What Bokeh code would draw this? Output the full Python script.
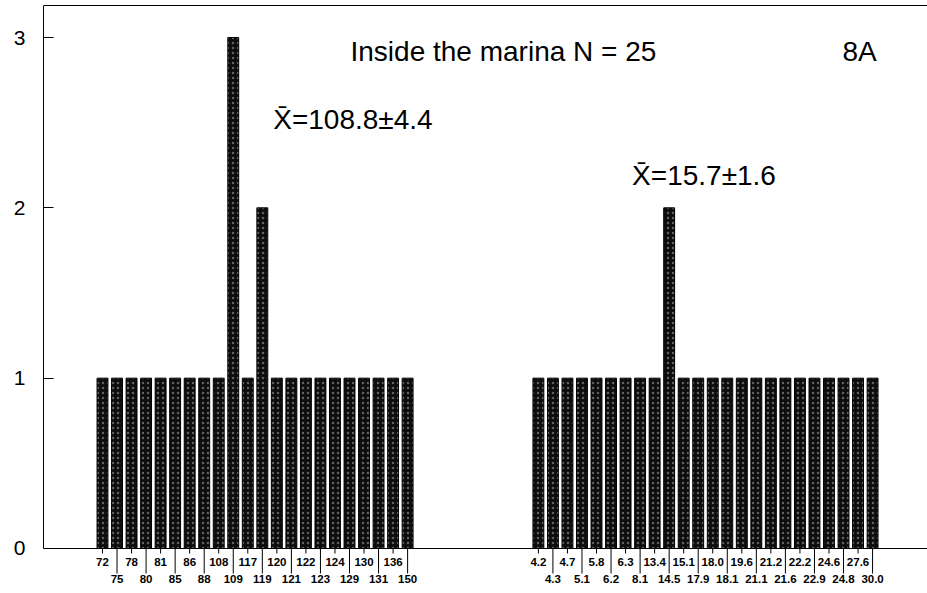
from bokeh.plotting import figure
from bokeh.models import Range1d, Span, FixedTicker, ColumnDataSource
from bokeh.core.properties import value
from bokeh.embed import file_html
from bokeh.resources import INLINE

# ---- data ----
left_labels = ["72", "75", "78", "80", "81", "85", "86", "88", "108", "109", "117",
               "119", "120", "121", "122", "123", "124", "129", "130", "131", "136", "150"]
left_counts = [1, 1, 1, 1, 1, 1, 1, 1, 1, 3, 1, 2, 1, 1, 1, 1, 1, 1, 1, 1, 1, 1]

right_labels = ["4.2", "4.3", "4.7", "5.1", "5.8", "6.2", "6.3", "8.1", "13.4", "14.5",
                "15.1", "17.9", "18.0", "18.1", "19.6", "21.1", "21.2", "21.6", "22.2",
                "22.9", "24.6", "24.8", "27.6", "30.0"]
right_counts = [1, 1, 1, 1, 1, 1, 1, 1, 1, 2, 1, 1, 1, 1, 1, 1, 1, 1, 1, 1, 1, 1, 1, 1]

y_ticks = [0, 1, 2, 3]
title_text = "Inside the marina N = 25"
panel_text = "8A"
mean_left = "X\u0304=108.8\u00b14.4"
mean_right = "X\u0304=15.7\u00b11.6"

# ---- layout of the two groups along a slot axis ----
right_offset = 30
xs = list(range(len(left_labels))) + [right_offset + j for j in range(len(right_labels))]
labels = left_labels + right_labels
counts = left_counts + right_counts
row = [i % 2 for i in range(len(left_labels))] + [j % 2 for j in range(len(right_labels))]

px_per_y = 170.33
p = figure(width=927, height=593, output_backend="svg", toolbar_location=None,
           x_range=Range1d(-4.06, 56.78),
           y_range=Range1d(-45 / px_per_y, 3 + 37 / px_per_y),
           min_border=0, min_border_left=43)
p.xaxis.visible = False
p.xgrid.visible = False
p.ygrid.visible = False
p.outline_line_color = None
p.background_fill_color = "white"
p.border_fill_color = "white"

ax = p.yaxis[0]
ax.ticker = FixedTicker(ticks=y_ticks)
ax.bounds = (0, 3 + 32 / px_per_y)
ax.major_tick_in = 10
ax.major_tick_out = 0
ax.minor_tick_line_color = None
ax.axis_line_color = "black"
ax.major_tick_line_color = "black"
ax.major_label_standoff = 18
ax.major_label_text_font = "Liberation Sans"
ax.major_label_text_font_size = "21px"
ax.major_label_text_color = "black"

# bars
src = ColumnDataSource(dict(x=xs, top=counts, label=labels))
p.vbar(x="x", top="top", bottom=0, width=0.75, source=src,
       fill_color="#0d0d0d", line_color="black", line_width=1,
       hatch_pattern="dot", hatch_color="white", hatch_alpha=0.35,
       hatch_scale=5, hatch_weight=1)

# baseline and top rule
p.add_layout(Span(location=0, dimension="width", line_color="black", line_width=1.2))
p.add_layout(Span(location=3 + 32 / px_per_y, dimension="width", line_color="black", line_width=1.2))

# category ticks and staggered labels
up_x = [x for x, r in zip(xs, row) if r == 0]
up_l = [l for l, r in zip(labels, row) if r == 0]
lo_x = [x for x, r in zip(xs, row) if r == 1]
lo_l = [l for l, r in zip(labels, row) if r == 1]
short = 5 / px_per_y
long_ = 25 / px_per_y
p.segment(x0=up_x, y0=[0] * len(up_x), x1=up_x, y1=[-short] * len(up_x), line_color="black", line_width=1)
p.segment(x0=lo_x, y0=[0] * len(lo_x), x1=lo_x, y1=[-long_] * len(lo_x), line_color="black", line_width=1)
p.text(x=up_x, y=[0] * len(up_x), text=up_l, y_offset=14, text_align="center",
       text_baseline="middle", text_font=value("Liberation Sans"), text_font_style="bold",
       text_font_size="11.5px", text_color="black")
p.text(x=lo_x, y=[0] * len(lo_x), text=lo_l, y_offset=31, text_align="center",
       text_baseline="middle", text_font=value("Liberation Sans"), text_font_style="bold",
       text_font_size="11.5px", text_color="black")

# annotations
def annot(x, y, t):
    p.text(x=[x], y=[y], text=[t], text_align="left", text_baseline="middle",
           text_font=value("Liberation Sans"), text_font_size="28px", text_color="black")

annot(17.07, 2.92, title_text)
annot(50.93, 2.92, panel_text)
annot(11.75, 2.52, mean_left)
annot(36.45, 2.19, mean_right)

html = file_html(p, INLINE)
open("out.html", "w").write(html)
